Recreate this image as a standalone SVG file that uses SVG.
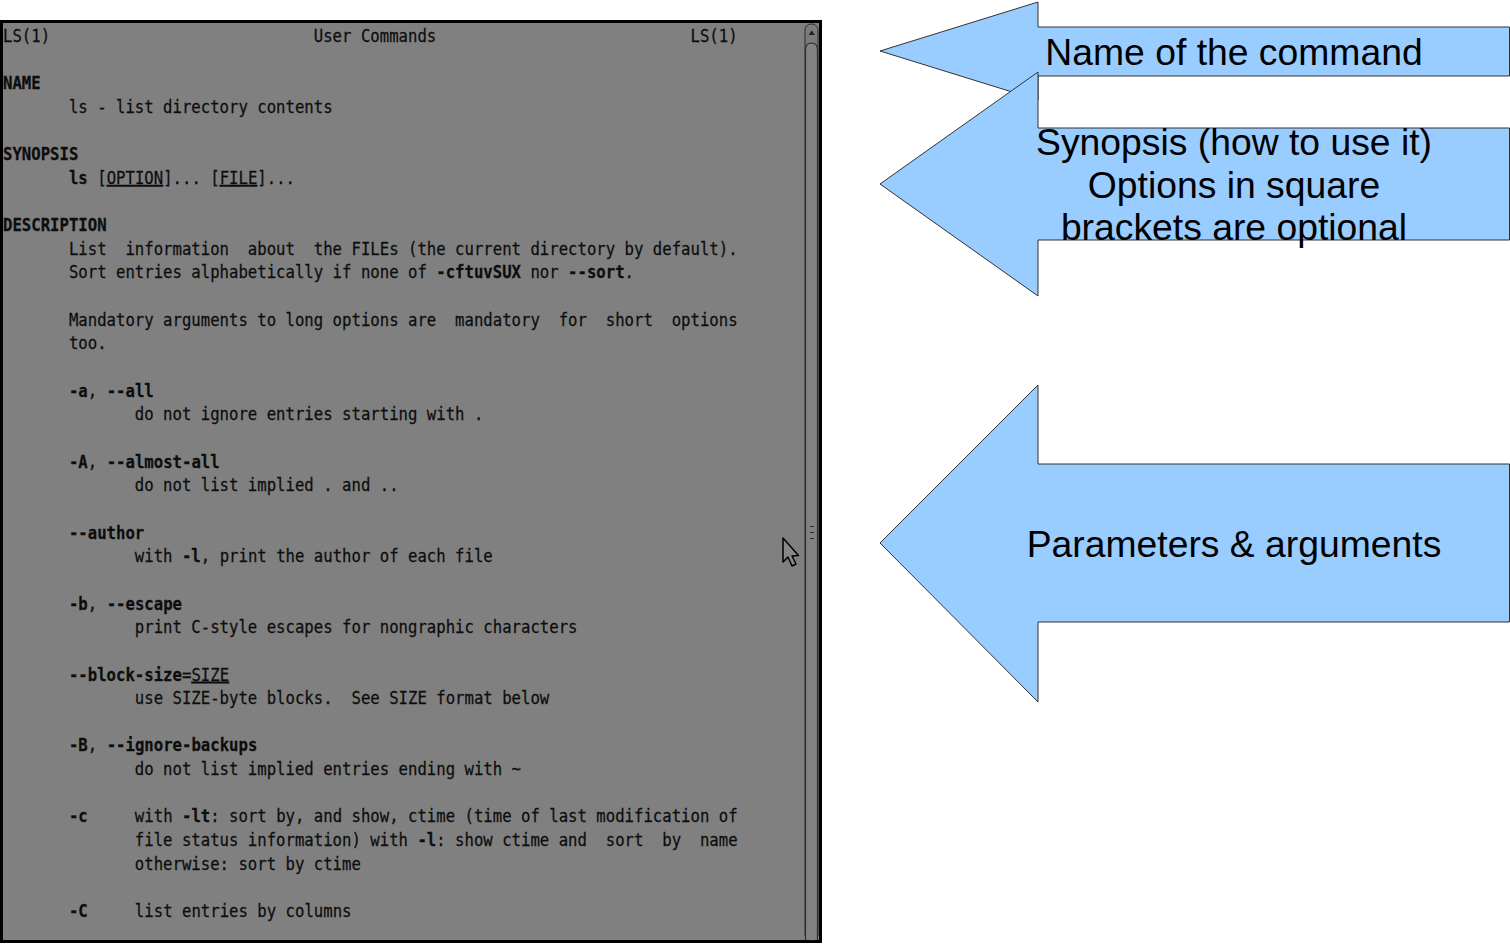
<svg xmlns="http://www.w3.org/2000/svg" width="1510" height="944" viewBox="0 0 1510 944">
<style>
.term{font-family:"DejaVu Sans Mono","Liberation Mono",monospace;font-size:17.3px;fill:#0d0d0d;stroke:#0d0d0d;stroke-width:0.25;white-space:pre}
.b{font-weight:bold}
.u{text-decoration:underline}
.arrow{fill:#99ccff;stroke:#333333;stroke-width:1}
.lbl{font-family:"Liberation Sans",Arial,sans-serif;font-size:37.3px;fill:#000;text-anchor:middle}
</style>
<rect width="1510" height="944" fill="#ffffff"/>
<g id="terminal">
<rect x="1.5" y="21.5" width="819" height="920" fill="#808080" stroke="#000" stroke-width="3"/>
<g id="scrollbar">
<rect x="805" y="24" width="13" height="916" rx="6" fill="#7b7b7b" stroke="#2e2e2e" stroke-width="1"/>
<path d="M805.5 940 V50 Q805.5 43 811.5 43 Q817.5 43 817.5 50 V940" fill="#828282" stroke="#2e2e2e" stroke-width="1.2"/>
<polygon points="808.5,35 815,35 811.8,30.5" fill="#222"/>
<path d="M810 526.5 H814 M810 532.5 H814 M810 538.5 H814" stroke="#2e2e2e" stroke-width="1.2"/>
</g>
<path d="M783 538 V562 L788 557 L792 566 L796 564 L792 556 L798.5 555.5 Z" fill="#878787" stroke="#000" stroke-width="1.5" stroke-linejoin="round"/>
<g transform="translate(3,-2) scale(0.905,1)" class="term">
<text x="0" y="44" xml:space="preserve">LS(1)                            User Commands                           LS(1)</text>
<text x="0" y="91.3" xml:space="preserve"><tspan class="b">NAME</tspan></text>
<text x="0" y="115" xml:space="preserve">       ls - list directory contents</text>
<text x="0" y="162.3" xml:space="preserve"><tspan class="b">SYNOPSIS</tspan></text>
<text x="0" y="185.9" xml:space="preserve">       <tspan class="b">ls</tspan> [<tspan class="u">OPTION</tspan>]... [<tspan class="u">FILE</tspan>]...</text>
<text x="0" y="233.2" xml:space="preserve"><tspan class="b">DESCRIPTION</tspan></text>
<text x="0" y="256.9" xml:space="preserve">       List  information  about  the FILEs (the current directory by default).</text>
<text x="0" y="280.5" xml:space="preserve">       Sort entries alphabetically if none of <tspan class="b">-cftuvSUX</tspan> nor <tspan class="b">--sort</tspan>.</text>
<text x="0" y="327.8" xml:space="preserve">       Mandatory arguments to long options are  mandatory  for  short  options</text>
<text x="0" y="351.5" xml:space="preserve">       too.</text>
<text x="0" y="398.8" xml:space="preserve">       <tspan class="b">-a</tspan>, <tspan class="b">--all</tspan></text>
<text x="0" y="422.4" xml:space="preserve">              do not ignore entries starting with .</text>
<text x="0" y="469.7" xml:space="preserve">       <tspan class="b">-A</tspan>, <tspan class="b">--almost-all</tspan></text>
<text x="0" y="493.4" xml:space="preserve">              do not list implied . and ..</text>
<text x="0" y="540.7" xml:space="preserve">       <tspan class="b">--author</tspan></text>
<text x="0" y="564.3" xml:space="preserve">              with <tspan class="b">-l</tspan>, print the author of each file</text>
<text x="0" y="611.6" xml:space="preserve">       <tspan class="b">-b</tspan>, <tspan class="b">--escape</tspan></text>
<text x="0" y="635.3" xml:space="preserve">              print C-style escapes for nongraphic characters</text>
<text x="0" y="682.6" xml:space="preserve">       <tspan class="b">--block-size</tspan>=<tspan class="u">SIZE</tspan></text>
<text x="0" y="706.2" xml:space="preserve">              use SIZE-byte blocks.  See SIZE format below</text>
<text x="0" y="753.5" xml:space="preserve">       <tspan class="b">-B</tspan>, <tspan class="b">--ignore-backups</tspan></text>
<text x="0" y="777.2" xml:space="preserve">              do not list implied entries ending with ~</text>
<text x="0" y="824.5" xml:space="preserve">       <tspan class="b">-c</tspan>     with <tspan class="b">-lt</tspan>: sort by, and show, ctime (time of last modification of</text>
<text x="0" y="848.1" xml:space="preserve">              file status information) with <tspan class="b">-l</tspan>: show ctime and  sort  by  name</text>
<text x="0" y="871.8" xml:space="preserve">              otherwise: sort by ctime</text>
<text x="0" y="919.1" xml:space="preserve">       <tspan class="b">-C</tspan>     list entries by columns</text>
</g>
</g>
<g id="arrow-name">
<polygon class="arrow" points="880,51 1038,2 1038,27 1509.5,27 1509.5,76 1038,76 1038,100"/>
<text class="lbl" x="1234" y="65">Name of the command</text>
</g>
<g id="arrow-synopsis">
<polygon class="arrow" points="880,184 1038,72 1038,128 1509.5,128 1509.5,240 1038,240 1038,296"/>
<text class="lbl" x="1234" y="155">Synopsis (how to use it)</text>
<text class="lbl" x="1234" y="197.5">Options in square</text>
<text class="lbl" x="1234" y="240">brackets are optional</text>
</g>
<g id="arrow-params">
<polygon class="arrow" points="880,543 1038,385 1038,464 1509.5,464 1509.5,622 1038,622 1038,702"/>
<text class="lbl" x="1234" y="557">Parameters &amp; arguments</text>
</g>
<g id="connectors"/>
</svg>
